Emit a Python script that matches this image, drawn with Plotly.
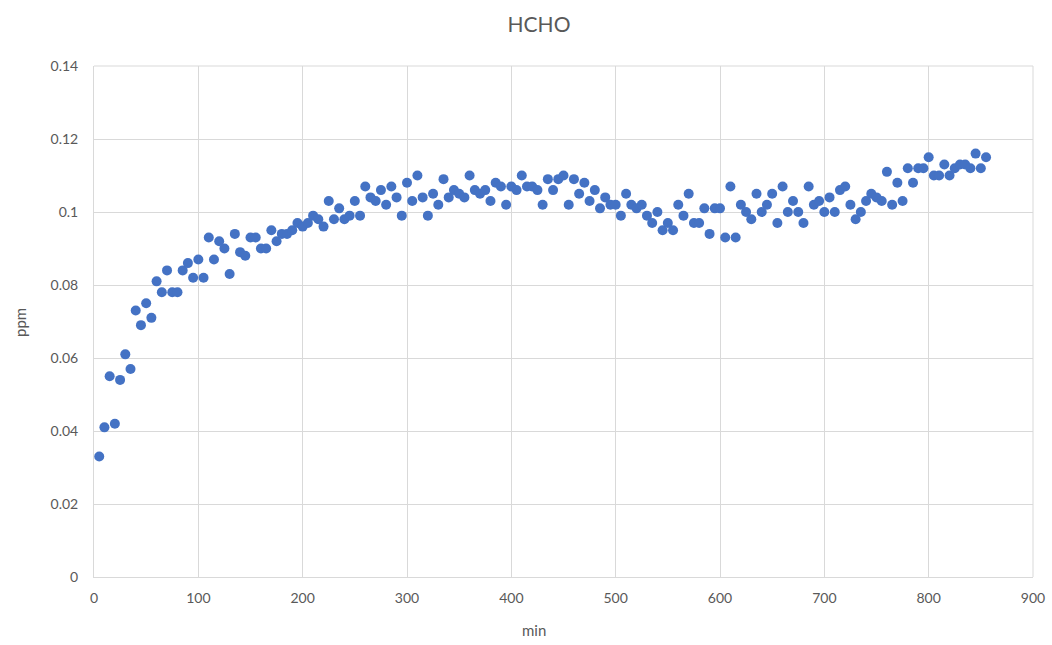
import plotly.graph_objects as go

minutes = list(range(5, 860, 5))
hcho_ppm = [
    0.033, 0.041, 0.055, 0.042, 0.054, 0.061, 0.057, 0.073, 0.069, 0.075,
    0.071, 0.081, 0.078, 0.084, 0.078, 0.078, 0.084, 0.086, 0.082, 0.087,
    0.082, 0.093, 0.087, 0.092, 0.090, 0.083, 0.094, 0.089, 0.088, 0.093,
    0.093, 0.090, 0.090, 0.095, 0.092, 0.094, 0.094, 0.095, 0.097, 0.096,
    0.097, 0.099, 0.098, 0.096, 0.103, 0.098, 0.101, 0.098, 0.099, 0.103,
    0.099, 0.107, 0.104, 0.103, 0.106, 0.102, 0.107, 0.104, 0.099, 0.108,
    0.103, 0.110, 0.104, 0.099, 0.105, 0.102, 0.109, 0.104, 0.106, 0.105,
    0.104, 0.110, 0.106, 0.105, 0.106, 0.103, 0.108, 0.107, 0.102, 0.107,
    0.106, 0.110, 0.107, 0.107, 0.106, 0.102, 0.109, 0.106, 0.109, 0.110,
    0.102, 0.109, 0.105, 0.108, 0.103, 0.106, 0.101, 0.104, 0.102, 0.102,
    0.099, 0.105, 0.102, 0.101, 0.102, 0.099, 0.097, 0.100, 0.095, 0.097,
    0.095, 0.102, 0.099, 0.105, 0.097, 0.097, 0.101, 0.094, 0.101, 0.101,
    0.093, 0.107, 0.093, 0.102, 0.100, 0.098, 0.105, 0.100, 0.102, 0.105,
    0.097, 0.107, 0.100, 0.103, 0.100, 0.097, 0.107, 0.102, 0.103, 0.100,
    0.104, 0.100, 0.106, 0.107, 0.102, 0.098, 0.100, 0.103, 0.105, 0.104,
    0.103, 0.111, 0.102, 0.108, 0.103, 0.112, 0.108, 0.112, 0.112, 0.115,
    0.110, 0.110, 0.113, 0.110, 0.112, 0.113, 0.113, 0.112, 0.116, 0.112,
    0.115,
]

x_ticks = list(range(0, 1000, 100))
y_ticks = [0, 0.02, 0.04, 0.06, 0.08, 0.10, 0.12, 0.14]
y_labels = ["0", "0.02", "0.04", "0.06", "0.08", "0.1", "0.12", "0.14"]

W, H = 1052, 645
L, R, T, B = 94, 19, 66, 68
grey = "#595959"
grid = "#d9d9d9"
font = "Lato, 'Open Sans', sans-serif"

fig = go.Figure(go.Scatter(
    x=minutes, y=hcho_ppm, mode="markers",
    marker=dict(color="#4472C4", size=10, line=dict(width=0)),
    cliponaxis=False,
))

fig.update_layout(
    width=W, height=H,
    paper_bgcolor="white", plot_bgcolor="white",
    margin=dict(l=L, r=R, t=T, b=B, autoexpand=False),
    showlegend=False,
    font=dict(family=font, color=grey, size=13),
    title=dict(text="HCHO", x=539 / W, xanchor="center", y=1 - 25 / H,
               xref="container", yref="container", yanchor="middle",
               automargin=False,
               font=dict(size=21, color=grey, family=font)),
)
fig.update_xaxes(
    range=[0, 900], tickvals=x_ticks, showgrid=True, gridcolor=grid, gridwidth=1,
    zeroline=False, showline=True, linecolor=grid, mirror=False, automargin=False,
    ticks="", tickfont=dict(size=14, color=grey), ticklabelstandoff=8,
)
fig.update_yaxes(
    range=[0, 0.14], tickvals=y_ticks, ticktext=y_labels, showgrid=True,
    gridcolor=grid, gridwidth=1, zeroline=False, showline=True, linecolor=grid,
    automargin=False,
    ticks="", tickfont=dict(size=14, color=grey), ticklabelstandoff=12,
)
fig.add_annotation(text="min", xref="paper", yref="paper",
                   x=(534 - L) / (W - L - R), y=-(630 - (H - B)) / (H - T - B),
                   xanchor="center", yanchor="middle", showarrow=False,
                   font=dict(size=15, color=grey, family=font))
fig.add_annotation(text="ppm", xref="paper", yref="paper", textangle=-90,
                   x=-(L - 20) / (W - L - R), y=1 - (323 - T) / (H - T - B),
                   xanchor="center", yanchor="middle", showarrow=False,
                   font=dict(size=15, color=grey, family=font))
fig.add_shape(type="line", xref="paper", yref="paper", x0=1, x1=1, y0=0, y1=1,
              line=dict(color=grid, width=1))
fig.add_shape(type="line", xref="paper", yref="paper", x0=0, x1=1, y0=1, y1=1,
              line=dict(color=grid, width=1))

fig.write_html(
    "out.html",
    config={"displayModeBar": False},
    post_script="document.body.style.margin='0';document.body.style.overflow='hidden';",
)
